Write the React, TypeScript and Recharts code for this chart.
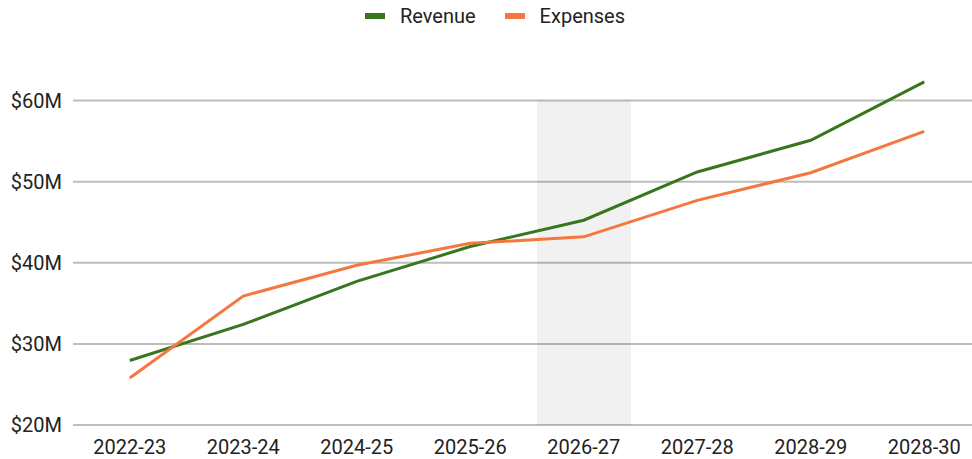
import React from 'react';
import { ComposedChart, Line, Bar, XAxis, YAxis, CartesianGrid, Legend } from 'recharts';

const categories = ['2022-23', '2023-24', '2024-25', '2025-26', '2026-27', '2027-28', '2028-29', '2028-30'];
const revenue = [27.95, 32.4, 37.7, 42.0, 45.25, 51.2, 55.1, 62.3];
const expenses = [25.8, 35.9, 39.7, 42.4, 43.2, 47.7, 51.1, 56.2];
const highlight = [null, null, null, null, 60, null, null, null];
const yTicks = [20, 30, 40, 50, 60];
const seriesNames = ['Revenue', 'Expenses'];

const GREEN = '#38761d';
const ORANGE = '#f4773f';
const FONT = 'Roboto, "Noto Sans", sans-serif';

const data = categories.map((c, i) => ({
  period: c,
  Revenue: revenue[i],
  Expenses: expenses[i],
  highlight: highlight[i],
}));

const renderLegend = (props: any) => {
  const payload = props.payload || [];
  const items = seriesNames
    .map((n) => payload.find((p: any) => p.value === n))
    .filter(Boolean);
  return (
    <div
      style={{
        display: 'flex',
        justifyContent: 'center',
        alignItems: 'center',
        height: 32,
        fontFamily: FONT,
        fontSize: 20,
        color: '#222',
      }}
    >
      {items.map((p: any, i: number) => (
        <div key={p.value} style={{ display: 'flex', alignItems: 'center', marginLeft: i ? 29 : 0 }}>
          <span style={{ display: 'inline-block', width: 20, height: 6, background: p.color, marginRight: 15 }} />
          <span>{p.value}</span>
        </div>
      ))}
    </div>
  );
};

export default function App() {
  return (
    <div style={{ position: 'absolute', left: 0, top: 0, width: 972, height: 459, overflow: 'hidden', background: '#fff' }}>
      <ComposedChart
        width={990}
        height={459}
        data={data}
        margin={{ top: 28, right: 9, left: 0, bottom: 4 }}
      >
        <CartesianGrid vertical={false} horizontalValues={yTicks} stroke="#bdbdbd" strokeWidth={2} />
        <XAxis
          dataKey="period"
          scale="band"
          height={30}
          axisLine={false}
          tickLine={false}
          tickSize={0}
          tickMargin={15}
          interval={0}
          tick={{ fill: '#222', fontSize: 20, fontFamily: FONT }}
        />
        <YAxis
          width={73}
          domain={[20, 65]}
          ticks={yTicks}
          axisLine={false}
          tickLine={false}
          tickSize={0}
          tickMargin={11}
          tickFormatter={(v: number) => `$${v}M`}
          tick={{ fill: '#222', fontSize: 20, fontFamily: FONT }}
        />
        <Legend verticalAlign="top" content={renderLegend} wrapperStyle={{ top: 0, left: 0, width: 990 }} />
        <Bar dataKey="highlight" barSize={94} fill="#000" fillOpacity={0.055} legendType="none" isAnimationActive={false} />
        <Line type="linear" dataKey="Revenue" stroke={GREEN} strokeWidth={3} dot={false} isAnimationActive={false} />
        <Line type="linear" dataKey="Expenses" stroke={ORANGE} strokeWidth={3} dot={false} isAnimationActive={false} />
      </ComposedChart>
    </div>
  );
}
